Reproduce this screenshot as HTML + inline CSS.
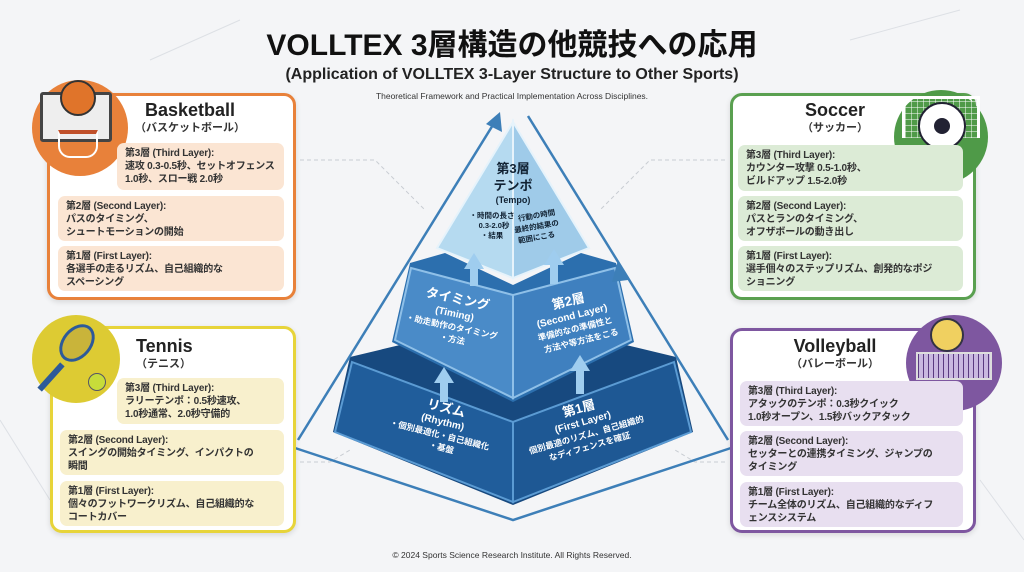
<!DOCTYPE html>
<html><head><meta charset="utf-8"><style>
*{margin:0;padding:0;box-sizing:border-box}
body{width:1024px;height:572px;overflow:hidden;background:#f4f5f7;font-family:"Liberation Sans","Noto Sans CJK JP",sans-serif;position:relative;color:#222}
.t{position:absolute;left:0;width:1024px;text-align:center;font-weight:bold}
.box{position:absolute;background:#fff;border:3px solid;border-radius:12px;box-shadow:0 2px 6px rgba(0,0,0,.12)}
.row{position:absolute;border-radius:7px;font-size:10px;line-height:13px;padding:4px 8px;font-weight:bold;color:#333;white-space:nowrap;letter-spacing:-0.2px}
.h{position:absolute;text-align:center;font-weight:bold}
.h b{display:block;font-size:18px;line-height:21px;color:#222}
.h span{display:block;font-size:11px;line-height:14px;color:#333}
.circ{position:absolute;border-radius:50%}
</style></head><body>
<svg width="1024" height="572" style="position:absolute;left:0;top:0">
<g stroke="#c9cdd3" stroke-width="1" stroke-dasharray="4,3" fill="none">
<path d="M300 160 L375 160 L425 210"/><path d="M725 160 L650 160 L600 210"/>
<path d="M300 462 L330 462 L350 450"/><path d="M725 462 L695 462 L675 450"/>
</g>
<g stroke="#dde0e5" fill="none" stroke-width="1"><path d="M150 60 L240 20 M850 40 L960 10 M0 420 L50 500 M980 480 L1024 540"/></g>
<!-- tier1 -->
<polygon points="350,357 400,345 513,400 626,345 676,357 693,432 513,505 333,432" fill="#17497f"/>
<polygon points="352,362 513,422 513,502 335,432" fill="#205d9b" stroke="#5b9bd3" stroke-width="2"/>
<polygon points="674,362 513,422 513,502 691,432" fill="#1e5894" stroke="#5b9bd3" stroke-width="2"/>
<!-- tier2 -->
<polygon points="410,263 445,253 513,285 581,253 616,263 634,342 513,402 392,342" fill="#2c6fae"/>
<polygon points="411,268 513,295 513,398 395,340" fill="#4a8bc8" stroke="#8fc0e8" stroke-width="2"/>
<polygon points="615,268 513,295 513,398 631,340" fill="#3f80bf" stroke="#8fc0e8" stroke-width="2"/>
<!-- tier3 -->
<polygon points="513,122 437,248 513,278" fill="#b5daf0" stroke="#e6f3fb" stroke-width="2"/>
<polygon points="513,122 589,248 513,278" fill="#9fcbe9" stroke="#e6f3fb" stroke-width="2"/>
<!-- outer frame lines -->
<g stroke="#3d7fb8" stroke-width="2.5" fill="none">
<path d="M298 440 L496 120"/><path d="M295 448 L513 520 L731 448"/>
<path d="M728 440 L528 116"/>
</g>
<polygon points="500,112 502,132 486,124" fill="#3d7fb8"/>
<polygon points="618,260 628,280 612,282" fill="#3d7fb8"/>
<!-- up arrows -->
<g fill="#9fcdef">
<rect x="440" y="380" width="8" height="22"/><polygon points="434,383 444,367 454,383"/>
<rect x="576" y="368" width="8" height="26"/><polygon points="570,371 580,355 590,371"/>
<rect x="470" y="266" width="8" height="20"/><polygon points="464,269 474,253 484,269"/>
<rect x="550" y="262" width="8" height="22"/><polygon points="544,265 554,249 564,265"/>
</g>
<g font-family="Liberation Sans,Noto Sans CJK JP,sans-serif" font-weight="bold" text-anchor="middle">
<text x="513" y="173" font-size="13" fill="#123">第3層</text>
<text x="513" y="190" font-size="13" fill="#123">テンポ</text>
<text x="513" y="203" font-size="9" fill="#123">(Tempo)</text>
<g font-size="7.5" fill="#123"><text x="492" y="218">・時間の長さ</text><text x="494" y="228">0.3-2.0秒</text><text x="492" y="238">・結果</text>
<text x="537" y="218" transform="rotate(-10 537 218)">行動の時間</text><text x="537" y="229" transform="rotate(-10 537 229)">最終的結果の</text><text x="537" y="240" transform="rotate(-10 537 240)">範囲にこる</text></g>
<g fill="#fff" transform="rotate(12 455 312)"><text x="455" y="303" font-size="13">タイミング</text><text x="455" y="317" font-size="10">(Timing)</text><text x="455" y="330" font-size="8.5">・助走動作のタイミング</text><text x="458" y="342" font-size="8.5">・方法</text></g>
<g fill="#fff" transform="rotate(-14 573 320)"><text x="573" y="305" font-size="13">第2層</text><text x="573" y="319" font-size="10">(Second Layer)</text><text x="573" y="332" font-size="8.5">準備的なの準備性と</text><text x="576" y="345" font-size="8.5">方法や等方法をこる</text></g>
<g fill="#fff" transform="rotate(14 442 425)"><text x="442" y="412" font-size="13">リズム</text><text x="442" y="425" font-size="10">(Rhythm)</text><text x="442" y="438" font-size="8.5">・個別最適化・自己組織化</text><text x="447" y="450" font-size="8.5">・基盤</text></g>
<g fill="#fff" transform="rotate(-16 585 430)"><text x="585" y="412" font-size="13">第1層</text><text x="585" y="425" font-size="10">(First Layer)</text><text x="585" y="438" font-size="8.5">個別最適のリズム、自己組織的</text><text x="585" y="450" font-size="8.5">なディフェンスを確証</text></g>
</g>
</svg>
<div class="t" style="top:28px;font-size:30px;line-height:36px;color:#111">VOLLTEX 3層構造の他競技への応用</div>
<div class="t" style="top:65px;font-size:16px;line-height:20px;color:#222">(Application of VOLLTEX 3-Layer Structure to Other Sports)</div>
<div class="t" style="top:91px;font-size:8.5px;font-weight:normal;color:#333">Theoretical Framework and Practical Implementation Across Disciplines.</div>
<div class="t" style="top:550px;font-size:8.5px;font-weight:normal;color:#333">© 2024 Sports Science Research Institute. All Rights Reserved.</div>

<!-- Basketball -->
<div class="box" style="left:47px;top:93px;width:249px;height:207px;border-color:#e8813a"></div>
<div class="circ" style="left:32px;top:80px;width:96px;height:96px;background:#e8813a"></div>
<div style="position:absolute;left:40px;top:92px;width:72px;height:50px;border:3px solid #444;background:#eee;border-radius:3px"></div>
<div class="circ" style="left:60px;top:80px;width:36px;height:36px;background:#e0742a;border:2px solid #333"></div>
<div style="position:absolute;left:58px;top:130px;width:40px;height:28px;border:2px solid #fff;border-top:4px solid #c0502a;border-radius:0 0 12px 12px"></div>
<div class="h" style="left:110px;top:100px;width:160px"><b>Basketball</b><span>（バスケットボール）</span></div>
<div class="row" style="left:117px;top:143px;width:167px;height:47px;background:#fbe5d3">第3層 (Third Layer):<br>速攻 0.3-0.5秒、セットオフェンス<br>1.0秒、スロー戦 2.0秒</div>
<div class="row" style="left:58px;top:196px;width:226px;height:45px;background:#fbe5d3">第2層 (Second Layer):<br>パスのタイミング、<br>シュートモーションの開始</div>
<div class="row" style="left:58px;top:246px;width:226px;height:45px;background:#fbe5d3">第1層 (First Layer):<br>各選手の走るリズム、自己組織的な<br>スペーシング</div>

<!-- Soccer -->
<div class="box" style="left:730px;top:93px;width:246px;height:207px;border-color:#5aa050"></div>
<div class="circ" style="left:894px;top:90px;width:94px;height:94px;background:#4f9a48"></div>
<div style="position:absolute;left:902px;top:96px;width:78px;height:42px;border:3px solid #fff;border-bottom:none;background:repeating-linear-gradient(90deg,rgba(255,255,255,.5) 0 1px,transparent 1px 6px),repeating-linear-gradient(0deg,rgba(255,255,255,.5) 0 1px,transparent 1px 6px)"></div>
<div class="circ" style="left:918px;top:102px;width:48px;height:48px;background:#fff;border:2px solid #223"></div>
<div class="circ" style="left:934px;top:118px;width:16px;height:16px;background:#223"></div>
<div class="h" style="left:760px;top:100px;width:150px"><b>Soccer</b><span>（サッカー）</span></div>
<div class="row" style="left:738px;top:145px;width:225px;height:46px;background:#dcebd6">第3層 (Third Layer):<br>カウンター攻撃 0.5-1.0秒、<br>ビルドアップ 1.5-2.0秒</div>
<div class="row" style="left:738px;top:196px;width:225px;height:45px;background:#dcebd6">第2層 (Second Layer):<br>パスとランのタイミング、<br>オフザボールの動き出し</div>
<div class="row" style="left:738px;top:246px;width:225px;height:45px;background:#dcebd6">第1層 (First Layer):<br>選手個々のステップリズム、創発的なポジ<br>ショニング</div>

<!-- Tennis -->
<div class="box" style="left:50px;top:326px;width:246px;height:207px;border-color:#e7d43a"></div>
<div class="circ" style="left:32px;top:315px;width:88px;height:88px;background:#ddcb33"></div>
<div class="circ" style="left:62px;top:322px;width:30px;height:42px;border:3px solid #2d5a99;background:#c9b43a;transform:rotate(40deg)"></div>
<div style="position:absolute;left:48px;top:360px;width:6px;height:34px;background:#2d5a99;transform:rotate(42deg)"></div>
<div class="circ" style="left:88px;top:373px;width:18px;height:18px;background:#c7dc3a;border:1px solid #556"></div>
<div class="h" style="left:136px;top:336px;width:110px;text-align:left"><b>Tennis</b><span>（テニス）</span></div>
<div class="row" style="left:117px;top:378px;width:167px;height:46px;background:#f8f0cd">第3層 (Third Layer):<br>ラリーテンポ：0.5秒速攻、<br>1.0秒通常、2.0秒守備的</div>
<div class="row" style="left:60px;top:430px;width:224px;height:45px;background:#f8f0cd">第2層 (Second Layer):<br>スイングの開始タイミング、インパクトの<br>瞬間</div>
<div class="row" style="left:60px;top:481px;width:224px;height:45px;background:#f8f0cd">第1層 (First Layer):<br>個々のフットワークリズム、自己組織的な<br>コートカバー</div>

<!-- Volleyball -->
<div class="box" style="left:730px;top:328px;width:246px;height:205px;border-color:#7e57a0"></div>
<div class="circ" style="left:906px;top:315px;width:96px;height:96px;background:#7e57a0"></div>
<div style="position:absolute;left:916px;top:352px;width:76px;height:28px;border:2px solid #ddd;background:repeating-linear-gradient(90deg,#5a3a80 0 1px,#c9b8e0 1px 5px)"></div>
<div class="circ" style="left:930px;top:318px;width:34px;height:34px;background:#f0d060;border:2px solid #334"></div>
<div class="h" style="left:760px;top:336px;width:150px"><b>Volleyball</b><span>（バレーボール）</span></div>
<div class="row" style="left:740px;top:381px;width:223px;height:45px;background:#e8dff0">第3層 (Third Layer):<br>アタックのテンポ：0.3秒クイック<br>1.0秒オープン、1.5秒バックアタック</div>
<div class="row" style="left:740px;top:431px;width:223px;height:45px;background:#e8dff0">第2層 (Second Layer):<br>セッターとの連携タイミング、ジャンプの<br>タイミング</div>
<div class="row" style="left:740px;top:482px;width:223px;height:45px;background:#e8dff0">第1層 (First Layer):<br>チーム全体のリズム、自己組織的なディフ<br>ェンスシステム</div>
</body></html>
